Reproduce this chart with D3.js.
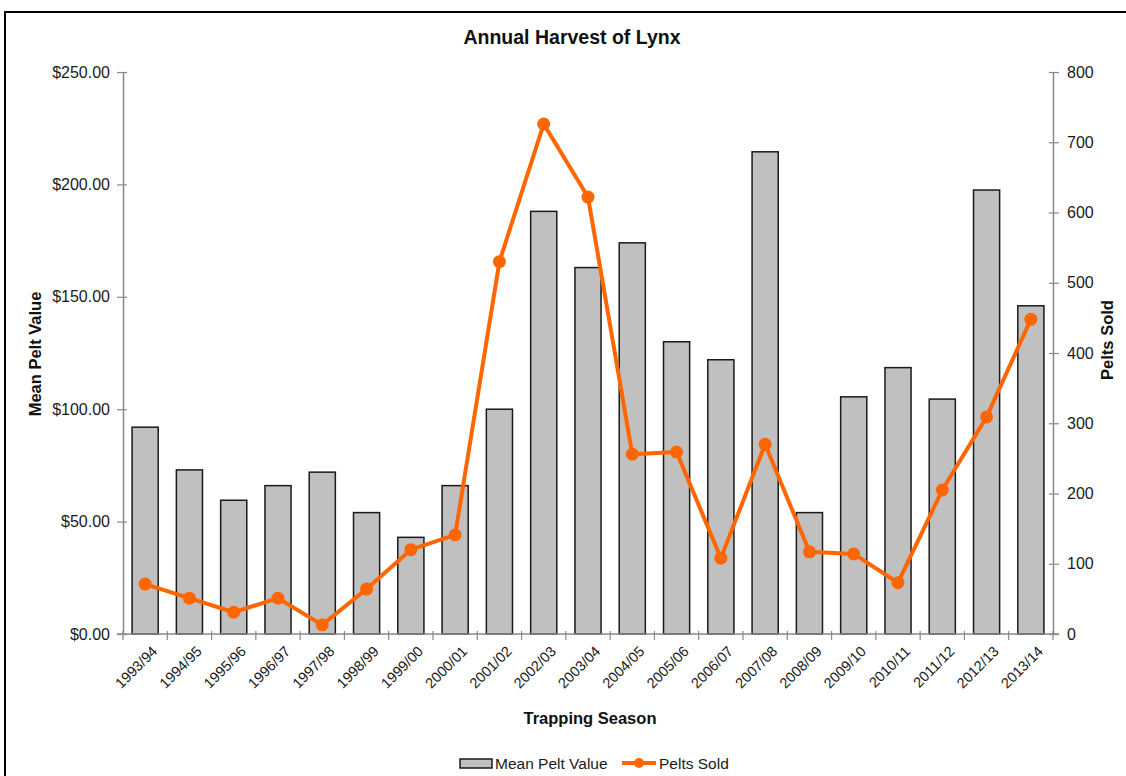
<!DOCTYPE html>
<html><head><meta charset="utf-8">
<script src="https://cdn.jsdelivr.net/npm/d3@7"></script>
<style>body{margin:0;background:#fff}svg{display:block}</style>
</head><body>
<svg id="c" width="1126" height="776"></svg>
<script>
const seasons = ["1993/94","1994/95","1995/96","1996/97","1997/98","1998/99","1999/00","2000/01","2001/02","2002/03","2003/04","2004/05","2005/06","2006/07","2007/08","2008/09","2009/10","2010/11","2011/12","2012/13","2013/14"];
const meanPeltValue = [92,73,59.5,66,72,54,43,66,100,188,163,174,130,122,214.5,54,105.5,118.5,104.5,197.5,146];
const peltsSold = [71,51,31,51,13,64,120,141,530,726,622,256,259,108,270,117,114,73,205,309,448];
const leftTicks = [0,50,100,150,200,250];
const rightTicks = [0,100,200,300,400,500,600,700,800];

const svg = d3.select("#c");
const font = "Arial, 'Liberation Sans', sans-serif";
const L = 123, R = 1053, T = 72, B = 634;

// frame
svg.append("rect").attr("x",5).attr("y",12).attr("width",1140).attr("height",800)
  .attr("fill","none").attr("stroke","#000").attr("stroke-width",2);

const x = d3.scaleBand().domain(seasons).range([L,R]).paddingInner(0.41).paddingOuter(0.205);
const xb = d3.scaleLinear().domain([0,seasons.length]).range([L,R]);
const yL = d3.scaleLinear().domain([0,250]).range([B,T]);
const yR = d3.scaleLinear().domain([0,800]).range([B,T]);

// bars
svg.append("g").selectAll("rect").data(meanPeltValue).join("rect")
  .attr("x",(d,i)=>x(seasons[i])).attr("y",d=>yL(d))
  .attr("width",x.bandwidth()).attr("height",d=>B-yL(d))
  .attr("fill","#c0c0c0").attr("stroke","#1a1a1a").attr("stroke-width",1.5);

// axes
const axisColor = "#888";
const gl = svg.append("g").attr("transform",`translate(${L},0)`)
  .call(d3.axisLeft(yL).tickValues(leftTicks).tickFormat(d=>"$"+d3.format(".2f")(d)).tickSize(6).tickSizeOuter(0));
gl.selectAll(".tick line").attr("x2",-6).attr("x1",4);
const gr = svg.append("g").attr("transform",`translate(${R},0)`)
  .call(d3.axisRight(yR).tickValues(rightTicks).tickSize(6).tickSizeOuter(0));
gr.selectAll(".tick line").attr("x1",-4);
[gl,gr].forEach(g=>{
  g.select(".domain").attr("stroke",axisColor).attr("stroke-width",1.5);
  g.selectAll(".tick line").attr("stroke",axisColor).attr("stroke-width",1.2);
  g.selectAll("text").attr("font-family",font).attr("font-size",16).attr("fill","#1a1a1a");
});
gl.selectAll("text").attr("x",-13);
gr.selectAll("text").attr("x",14);

// x axis
const gx = svg.append("g");
gx.append("line").attr("x1",L-6).attr("x2",R+6).attr("y1",B).attr("y2",B)
  .attr("stroke",axisColor).attr("stroke-width",1.5);
gx.selectAll("line.tk").data(d3.range(seasons.length+1)).join("line").attr("class","tk")
  .attr("x1",d=>xb(d)).attr("x2",d=>xb(d)).attr("y1",B-3).attr("y2",B+6)
  .attr("stroke",axisColor).attr("stroke-width",1.2);
gx.selectAll("text").data(seasons).join("text")
  .attr("transform",d=>`translate(${x(d)+x.bandwidth()/2+6},${B+11}) rotate(-45)`)
  .attr("text-anchor","end").attr("dy","0.7em")
  .attr("font-family",font).attr("font-size",14.5).attr("fill","#1a1a1a").text(d=>d);

// line
const cx = (d,i)=>x(seasons[i])+x.bandwidth()/2;
svg.append("path").datum(peltsSold)
  .attr("d",d3.line().x(cx).y(d=>yR(d)))
  .attr("fill","none").attr("stroke","#ff6600").attr("stroke-width",4).attr("stroke-linejoin","round");
svg.append("g").selectAll("circle").data(peltsSold).join("circle")
  .attr("cx",cx).attr("cy",d=>yR(d)).attr("r",6.5).attr("fill","#ff6600");

// titles
svg.append("text").attr("x",572).attr("y",44).attr("text-anchor","middle")
  .attr("font-family",font).attr("font-weight","bold").attr("font-size",19.5).attr("fill","#111")
  .text("Annual Harvest of Lynx");
svg.append("text").attr("transform","translate(41,354) rotate(-90)").attr("text-anchor","middle")
  .attr("font-family",font).attr("font-weight","bold").attr("font-size",16.5).attr("fill","#111")
  .text("Mean Pelt Value");
svg.append("text").attr("transform","translate(1113,340) rotate(-90)").attr("text-anchor","middle")
  .attr("font-family",font).attr("font-weight","bold").attr("font-size",16.5).attr("fill","#111")
  .text("Pelts Sold");
svg.append("text").attr("x",590).attr("y",724).attr("text-anchor","middle")
  .attr("font-family",font).attr("font-weight","bold").attr("font-size",16.5).attr("fill","#111")
  .text("Trapping Season");

// legend
const lg = svg.append("g");
lg.append("rect").attr("x",460).attr("y",759).attr("width",32).attr("height",9)
  .attr("fill","#c0c0c0").attr("stroke","#1a1a1a").attr("stroke-width",1.5);
lg.append("text").attr("x",495).attr("y",769).attr("font-family",font).attr("font-size",15.5).attr("fill","#1a1a1a").text("Mean Pelt Value");
lg.append("line").attr("x1",622).attr("x2",656).attr("y1",763).attr("y2",763).attr("stroke","#ff6600").attr("stroke-width",4);
lg.append("circle").attr("cx",639).attr("cy",763).attr("r",5).attr("fill","#ff6600");
lg.append("text").attr("x",659).attr("y",769).attr("font-family",font).attr("font-size",15.5).attr("fill","#1a1a1a").text("Pelts Sold");
</script>
</body></html>
